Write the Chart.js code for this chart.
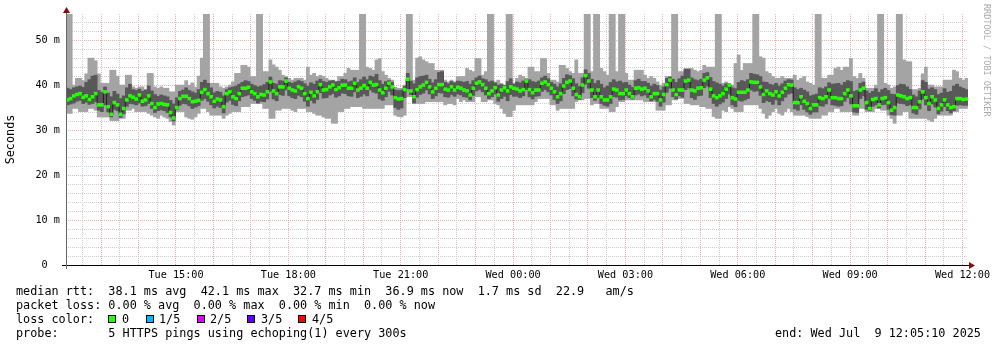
<!DOCTYPE html>
<html>
<head>
<meta charset="utf-8">
<title>smokeping rtt</title>
<script src="https://cdn.jsdelivr.net/npm/chart.js@4.4.1/dist/chart.umd.min.js"></script>
<style>
  html, body { margin: 0; padding: 0; background: #fff; }
  #wrap { position: relative; width: 997px; height: 347px; overflow: hidden; background: #fff; }
  #chart-canvas { position: absolute; left: 0; top: 0; }
  .row { position: absolute; font-family: "DejaVu Sans Mono", monospace; font-size: 11.8px; line-height: 14px; white-space: pre; color: #000; }
  .box { position: absolute; width: 6px; height: 6px; border: 1px solid #000; }
  #watermark { position: absolute; left: 981px; top: 4px; width: 12px; writing-mode: vertical-rl; font-family: "DejaVu Sans Mono", monospace; font-size: 8.5px; line-height: 12px; color: #aaaaaa; white-space: pre; }
</style>
</head>
<body>
<div id="wrap">
  <canvas id="chart-canvas" width="997" height="347"></canvas>
  <div id="watermark">RRDTOOL / TOBI OETIKER</div>
  <div class="row" style="left:16px; top:284px;">median rtt:  38.1 ms avg  42.1 ms max  32.7 ms min  36.9 ms now  1.7 ms sd  22.9   am/s</div>
  <div class="row" style="left:16px; top:298px;">packet loss: 0.00 % avg  0.00 % max  0.00 % min  0.00 % now</div>
  <div class="row" style="left:16px; top:312px;">loss color:</div>
  <div id="loss-legend"></div>
  <div class="row" style="left:16px; top:326px;">probe:       5 HTTPS pings using echoping(1) every 300s</div>
  <div class="row" style="left:775px; top:326px;">end: Wed Jul  9 12:05:10 2025</div>
</div>
<script>
// ### data (one value per 5 minute step, ms) ###
const medianRtt = [
  36.7, 37.0, 37.6, 37.9, 38.1, 37.3, 37.6, 36.8, 37.4, 38.1, 35.6, 35.6, 38.5, 35.2, 33.5, 36.1, 35.6, 33.5, 34.8, 36.7, 37.6, 37.3, 36.9, 37.8, 36.4, 36.7, 37.6, 35.9, 35.0, 35.8, 35.9, 35.7, 35.6, 33.9, 32.7, 35.0, 37.0, 37.5, 37.5, 37.0, 36.3, 36.4, 36.6, 38.4, 39.0, 38.1, 37.4,
  36.4, 36.9, 36.7, 35.2, 38.1, 38.5, 37.4, 37.0, 38.1, 39.3, 39.3, 39.5, 38.5, 38.1, 37.4, 37.9, 37.8, 38.5, 40.7, 38.7, 38.1, 39.6, 39.6, 40.9, 39.3, 38.9, 38.7, 39.6, 39.3, 38.1, 37.0, 38.4, 37.6, 38.5, 40.1, 38.9, 39.0, 39.6, 40.0, 39.0, 39.4, 40.0, 40.0, 39.3, 39.3, 40.4, 38.9, 39.3, 39.9,
  39.3, 40.6, 40.0, 40.1, 38.9, 38.3, 39.3, 40.4, 39.6, 37.2, 36.9, 37.0, 39.0, 41.3, 38.7, 37.4, 39.0, 39.6, 40.0, 40.6, 39.6, 38.5, 39.3, 40.1, 40.1, 39.1, 38.9, 39.6, 38.9, 39.5, 39.3, 38.9, 38.7, 37.8, 39.3, 40.4, 40.7, 40.1, 39.3, 38.1, 38.7, 39.4, 37.8, 38.9, 39.4, 38.7, 39.6, 39.3,
  39.1, 38.7, 39.0, 40.9, 39.0, 38.3, 38.9, 38.9, 40.4, 40.7, 40.1, 39.3, 38.5, 37.4, 38.1, 39.8, 40.6, 40.9, 39.3, 37.9, 37.4, 40.0, 42.1, 40.9, 38.9, 37.4, 38.9, 37.4, 36.7, 36.7, 37.4, 39.1, 38.9, 38.1, 38.1, 38.9, 38.1, 37.4, 39.3, 39.4, 39.1, 39.3, 38.7, 37.4, 38.1, 38.1, 36.7, 37.9,
  40.1, 41.1, 38.9, 37.9, 38.9, 38.9, 40.9, 41.1, 38.9, 38.7, 39.3, 39.4, 41.1, 41.6, 39.1, 37.6, 37.2, 37.6, 38.1, 39.1, 40.0, 37.2, 36.9, 38.4, 38.4, 38.4, 38.9, 40.7, 40.6, 40.6, 39.6, 37.9, 38.7, 38.1, 37.8, 38.5, 37.6, 38.4, 39.3, 40.1, 40.0, 36.1, 36.1, 37.4, 36.4, 35.9, 34.8, 35.6,
  35.6, 37.2, 37.0, 37.4, 38.9, 37.2, 37.2, 37.0, 37.0, 38.1, 38.9, 37.6, 35.4, 35.4, 38.9, 39.3, 36.1, 34.8, 36.8, 37.0, 35.6, 37.0, 37.2, 36.1, 34.4, 35.0, 37.8, 37.6, 37.4, 37.0, 37.2, 35.0, 35.0, 36.3, 38.5, 37.2, 35.9, 37.4, 36.7, 34.8, 35.6, 36.7, 35.6, 35.0, 35.2, 37.0, 37.0, 36.8, 36.9,
];

// slowest of the 5 pings (56 = off the top of the graph)
const maxRtt = [
  56, 56, 40.0, 41.5, 41.5, 41.0, 42.5, 46.0, 46.0, 45.4, 42.5, 40.4, 40.4, 40.4, 43.3, 43.3, 42.0, 40.0, 40.0, 42.2, 42.2, 39.6, 39.3, 39.6, 39.6, 39.0, 42.6, 42.6, 39.6, 39.3, 39.6, 39.3, 39.3, 38.5, 38.5, 40.0, 40.0, 40.0, 41.0, 40.0, 40.5, 39.5, 42.0, 46.0, 56, 56, 40.4,
  40.4, 40.4, 39.6, 39.3, 39.6, 40.0, 40.7, 42.6, 42.6, 44.4, 44.4, 44.0, 41.9, 41.9, 56, 56, 43.0, 43.0, 45.6, 44.5, 44.0, 43.3, 42.2, 41.9, 41.5, 41.1, 41.5, 41.5, 41.5, 41.1, 44.0, 42.2, 42.6, 41.9, 42.2, 41.9, 41.5, 41.1, 41.1, 40.9, 41.9, 41.9, 42.6, 43.7, 43.3, 43.3, 43.3, 56, 56,
  44.0, 43.7, 43.3, 45.6, 45.9, 43.0, 42.2, 41.5, 41.1, 39.5, 39.3, 39.3, 40.0, 56, 56, 41.1, 46.0, 46.3, 45.6, 45.2, 44.8, 44.8, 43.3, 43.3, 43.3, 41.1, 40.7, 41.1, 40.7, 41.9, 41.9, 41.9, 43.7, 43.3, 43.0, 45.9, 45.9, 42.2, 43.0, 56, 56, 40.7, 41.1, 40.4, 40.0, 56, 56, 40.4,
  41.5, 42.2, 41.9, 41.5, 44.0, 44.0, 43.0, 43.0, 45.9, 45.9, 42.6, 41.1, 41.1, 40.7, 44.4, 44.4, 43.7, 43.0, 42.6, 45.6, 42.6, 42.6, 56, 56, 43.0, 56, 56, 43.7, 43.0, 42.2, 56, 56, 43.0, 56, 56, 42.6, 41.1, 41.1, 43.3, 43.3, 43.3, 42.2, 41.5, 41.9, 41.5, 40.7, 40.0, 40.4,
  41.9, 41.9, 56, 56, 43.0, 43.0, 43.7, 43.7, 43.7, 43.3, 43.0, 43.3, 44.4, 44.0, 44.0, 44.0, 56, 56, 40.4, 40.7, 40.4, 40.0, 44.8, 46.7, 43.3, 44.8, 44.8, 44.8, 56, 56, 46.3, 46.0, 43.0, 42.6, 41.9, 41.5, 41.5, 41.9, 41.5, 41.5, 41.5, 42.2, 41.1, 41.5, 41.9, 40.7, 40.4, 40.0,
  56, 56, 41.5, 41.5, 42.2, 42.2, 43.7, 44.0, 43.3, 44.0, 44.0, 45.9, 41.9, 41.5, 42.6, 41.5, 39.3, 39.3, 39.3, 40.0, 56, 56, 40.4, 40.0, 39.3, 39.6, 56, 56, 45.6, 45.2, 45.2, 39.0, 39.0, 39.3, 42.5, 44.0, 40.0, 40.0, 39.6, 39.6, 39.6, 41.1, 41.1, 41.1, 43.3, 43.0, 41.5, 41.1, 41.5,
];

// fourth of the 5 pings
const highRtt = [
  39.3, 39.0, 39.4, 39.6, 39.8, 39.5, 40.6, 41.2, 42.0, 42.2, 38.8, 38.4, 39.6, 38.2, 37.4, 38.6, 38.0, 37.0, 37.6, 39.4, 40.2, 39.0, 38.8, 39.1, 38.6, 38.9, 39.8, 38.7, 37.9, 37.5, 37.8, 37.6, 37.4, 36.6, 35.8, 37.2, 38.6, 38.9, 39.4, 38.8, 38.5, 38.2, 39.0, 40.6, 41.1, 40.4, 39.4,
  38.3, 38.6, 38.4, 37.6, 39.0, 39.4, 39.6, 39.8, 40.2, 40.6, 41.0, 40.8, 40.2, 39.9, 39.6, 39.8, 40.1, 40.6, 41.8, 40.4, 40.2, 41.0, 40.9, 41.6, 40.6, 40.4, 40.7, 41.0, 40.8, 40.3, 39.8, 40.5, 40.2, 40.9, 41.3, 40.8, 40.6, 40.9, 41.0, 40.7, 40.8, 41.3, 41.2, 40.7, 40.9, 41.6, 40.6, 41.2, 41.8,
  41.2, 42.0, 41.8, 42.4, 41.0, 40.2, 40.8, 41.0, 40.6, 38.9, 38.8, 38.9, 39.7, 42.6, 40.9, 40.3, 41.6, 41.9, 42.0, 42.2, 41.3, 40.5, 41.2, 42.8, 43.0, 40.6, 40.3, 40.8, 40.5, 40.9, 40.8, 40.6, 40.8, 40.2, 41.0, 41.6, 42.0, 41.4, 41.2, 40.7, 40.9, 40.5, 40.0, 40.1, 39.9, 40.8, 41.4, 40.2,
  40.7, 40.5, 40.9, 41.3, 41.2, 40.8, 40.6, 40.9, 41.6, 42.0, 41.4, 40.6, 40.2, 39.6, 40.3, 41.5, 42.3, 42.1, 41.4, 40.3, 39.7, 41.6, 43.4, 42.6, 41.3, 40.4, 41.0, 40.2, 39.4, 39.8, 40.6, 41.2, 40.7, 40.9, 40.5, 40.6, 40.0, 39.5, 41.0, 41.3, 40.8, 40.8, 40.4, 39.8, 40.2, 39.9, 38.9, 39.6,
  41.5, 41.8, 41.3, 40.6, 41.4, 42.0, 43.5, 43.5, 41.6, 41.2, 41.0, 41.3, 42.6, 42.8, 41.7, 40.8, 40.5, 40.2, 39.8, 40.3, 40.3, 39.4, 39.2, 40.6, 41.0, 40.8, 41.2, 42.6, 42.4, 42.3, 41.9, 40.7, 40.6, 40.2, 40.0, 40.4, 39.8, 40.3, 40.9, 41.2, 41.1, 39.4, 39.0, 39.3, 38.9, 38.5, 37.6, 37.8,
  38.0, 39.4, 39.2, 39.6, 40.5, 40.2, 40.3, 40.4, 40.0, 40.6, 41.0, 40.8, 38.6, 38.8, 40.4, 40.7, 38.7, 38.2, 38.6, 39.2, 38.4, 39.0, 39.3, 38.8, 38.0, 37.9, 39.9, 40.2, 40.1, 39.6, 39.0, 37.8, 37.4, 38.7, 41.0, 40.6, 39.1, 39.4, 39.0, 37.9, 38.2, 39.2, 38.4, 38.6, 39.8, 40.2, 39.6, 39.3, 39.0,
];

// second of the 5 pings
const lowRtt = [
  35.6, 35.8, 36.0, 36.4, 36.6, 35.9, 36.2, 35.7, 35.9, 36.3, 34.4, 34.1, 35.6, 34.0, 32.9, 34.6, 34.3, 32.8, 33.6, 35.3, 35.9, 35.8, 35.6, 36.0, 35.3, 35.4, 35.9, 34.8, 33.9, 34.3, 34.5, 34.3, 33.9, 32.9, 32.0, 34.6, 35.5, 35.9, 35.8, 35.4, 34.8, 35.1, 35.4, 36.6, 37.0, 36.4, 35.6,
  34.9, 35.3, 35.0, 33.8, 36.2, 36.6, 35.7, 35.4, 36.5, 37.4, 37.6, 37.8, 37.0, 36.6, 36.0, 36.4, 36.3, 36.9, 38.6, 36.9, 36.5, 37.9, 37.7, 38.9, 37.6, 37.2, 37.0, 37.7, 37.4, 36.4, 35.3, 36.6, 36.0, 36.8, 38.3, 37.1, 37.2, 37.8, 38.1, 37.3, 37.6, 38.2, 38.1, 37.6, 37.5, 38.5, 37.2, 37.5, 38.0,
  37.6, 38.9, 38.4, 38.2, 36.9, 36.6, 37.4, 38.6, 37.8, 35.0, 34.6, 34.9, 37.2, 39.2, 37.9, 36.0, 37.3, 37.9, 38.2, 38.9, 38.0, 37.0, 37.6, 38.3, 38.2, 37.4, 37.3, 37.9, 37.5, 38.0, 37.8, 37.4, 37.3, 36.7, 37.7, 38.7, 39.0, 38.5, 37.8, 37.0, 37.4, 38.0, 36.4, 37.0, 37.5, 36.5, 37.9, 37.5,
  37.5, 37.2, 37.6, 39.0, 37.4, 36.9, 37.5, 37.6, 38.6, 39.0, 38.5, 37.8, 36.8, 35.9, 36.5, 38.1, 39.0, 39.2, 37.6, 36.9, 36.8, 38.3, 40.2, 39.3, 37.2, 36.6, 37.2, 35.9, 35.5, 35.3, 35.9, 37.4, 37.3, 36.7, 36.8, 37.6, 37.2, 36.9, 37.8, 38.0, 37.6, 37.8, 37.2, 36.5, 36.8, 36.4, 35.3, 36.2,
  38.4, 39.3, 37.4, 36.9, 37.6, 37.3, 39.0, 39.4, 37.2, 36.8, 37.6, 37.7, 39.4, 39.8, 37.2, 35.9, 35.3, 35.8, 36.2, 37.0, 38.0, 35.6, 35.2, 36.6, 36.4, 36.7, 37.0, 38.9, 38.6, 38.7, 37.7, 36.1, 36.5, 36.3, 35.7, 36.7, 35.6, 36.5, 37.3, 38.0, 38.2, 34.7, 34.4, 35.6, 34.6, 34.0, 33.5, 34.0,
  34.0, 35.4, 35.3, 35.8, 37.0, 35.6, 35.5, 35.3, 35.4, 36.4, 37.2, 35.8, 34.0, 33.9, 37.0, 37.6, 34.6, 34.3, 35.3, 35.6, 34.9, 35.6, 35.7, 34.6, 33.4, 33.3, 36.0, 35.9, 35.8, 35.4, 35.6, 33.8, 33.5, 34.7, 36.9, 35.6, 34.3, 35.8, 35.1, 33.6, 34.2, 35.2, 34.3, 33.8, 34.3, 35.5, 35.6, 35.5, 35.5,
];

// fastest of the 5 pings
const minRtt = [
  33.7, 33.7, 34.8, 34.8, 34.1, 34.1, 34.1, 34.8, 34.8, 34.4, 32.9, 32.9, 32.9, 32.9, 32.1, 32.1, 32.1, 32.6, 32.6, 34.4, 34.4, 34.8, 34.1, 34.1, 34.1, 34.1, 33.7, 33.3, 32.9, 32.6, 33.3, 32.9, 32.6, 31.9, 31.1, 34.1, 34.1, 34.1, 32.9, 32.6, 32.4, 32.9, 33.7, 34.8, 34.8, 34.1, 33.3,
  33.3, 33.3, 33.3, 32.6, 33.3, 33.7, 34.1, 34.1, 34.1, 35.2, 35.2, 35.2, 35.9, 35.9, 35.9, 35.9, 34.8, 34.8, 32.6, 32.6, 34.4, 34.4, 34.8, 34.8, 34.8, 34.4, 34.1, 34.8, 34.8, 34.8, 34.1, 34.1, 33.7, 33.3, 33.3, 32.9, 32.6, 32.6, 31.5, 31.5, 34.1, 34.1, 34.8, 34.8, 35.2, 35.2, 35.2, 35.2, 34.8,
  34.8, 34.8, 34.8, 34.8, 34.8, 34.8, 35.6, 35.6, 35.6, 33.3, 33.0, 32.9, 33.3, 37.4, 37.4, 35.9, 35.9, 35.9, 35.9, 36.3, 36.3, 36.3, 36.3, 36.3, 36.3, 35.6, 35.9, 35.9, 35.6, 37.0, 36.3, 36.7, 36.3, 36.3, 36.3, 37.4, 37.4, 36.3, 36.3, 36.7, 36.7, 35.9, 35.6, 34.8, 33.7, 33.0, 33.0, 34.4,
  35.6, 35.6, 35.6, 35.6, 35.6, 35.6, 36.3, 37.0, 37.0, 37.0, 37.0, 35.6, 35.6, 34.4, 34.8, 34.8, 34.8, 34.8, 34.8, 36.3, 36.7, 36.7, 37.0, 37.0, 35.6, 35.9, 35.9, 34.8, 34.8, 34.8, 34.1, 34.1, 35.2, 36.3, 36.3, 36.7, 36.7, 36.7, 36.7, 36.7, 36.7, 36.3, 36.3, 36.3, 36.3, 34.4, 34.4, 34.4,
  35.6, 35.6, 36.7, 36.7, 37.0, 37.0, 35.9, 35.9, 35.6, 35.6, 35.6, 35.2, 35.2, 34.8, 34.8, 33.0, 32.6, 32.6, 34.4, 34.1, 35.2, 34.8, 34.1, 34.1, 34.1, 35.6, 35.6, 35.6, 35.6, 35.6, 34.8, 33.7, 32.6, 33.3, 34.1, 34.8, 33.7, 33.3, 34.1, 34.8, 34.1, 33.3, 33.3, 33.3, 33.3, 33.0, 32.6, 32.6,
  32.6, 32.6, 33.3, 33.3, 34.1, 34.1, 34.8, 34.8, 34.1, 34.1, 34.1, 34.1, 33.3, 33.3, 34.8, 34.8, 34.1, 34.1, 34.1, 34.8, 34.8, 34.4, 34.4, 33.3, 32.6, 31.5, 33.3, 33.3, 34.1, 34.1, 32.6, 32.6, 32.6, 32.6, 32.6, 32.6, 32.2, 31.9, 32.6, 33.3, 33.3, 33.3, 33.3, 33.3, 34.1, 34.1, 34.8, 34.8, 34.8,
];

// ### axis labels ###
// minutes counted from Tue 12:00
const timeTickMinutes = [180, 360, 540, 720, 900, 1080, 1260, 1440];
const timeTickLabels = ["Tue 15:00", "Tue 18:00", "Tue 21:00", "Wed 00:00", "Wed 03:00", "Wed 06:00", "Wed 09:00", "Wed 12:00"];
const yTickValues = [0, 10, 20, 30, 40, 50];
const yTickLabels = ["0  ", "10 m", "20 m", "30 m", "40 m", "50 m"];

// ### loss legend ###
const lossLabels = ["0", "1/5", "2/5", "3/5", "4/5"];
const lossColors = ["#26ff00", "#00b8ff", "#dd00ff", "#5e00ff", "#ff0000"];

// ### colors ###
const SMOKE_LIGHT = "#a4a4a4";
const SMOKE_DARK = "#585858";
const MEDIAN_LINE = "#202020";
const MINOR_GRID = "#cfcfcf";
const MAJOR_GRID = "#eab4b4";
const ARROW_RED = "#7f0f0f";
const FONT = "'DejaVu Sans Mono', monospace";

// ### layout of the time axis ###
const STEP_MINUTES = 5;
const FIRST_MINUTE = 3.8;
const LAST_MINUTE = FIRST_MINUTE + STEP_MINUTES * medianRtt.length;
const Y_MAX = 55.8;
const STICK_HALF = 0.32;

function stepCenter(i) {
  return FIRST_MINUTE + STEP_MINUTES * (i + 0.5);
}

function buildBand(lowSeries, highSeries) {
  return lowSeries.map((value, i) => ({ x: stepCenter(i), y: [value, highSeries[i]] }));
}

function buildMedianSticks() {
  return medianRtt.map((value, i) => ({ x: stepCenter(i), y: [value - STICK_HALF, value + STICK_HALF] }));
}

function buildMedianLine() {
  return medianRtt.map((value, i) => ({ x: stepCenter(i), y: value }));
}

// ### legend rendering ###
function renderLossLegend() {
  const holder = document.getElementById("loss-legend");
  const boxLefts = [108, 146, 197, 247, 298];
  const textLefts = [122, 159, 210, 261, 312];
  lossLabels.forEach((label, i) => {
    const box = document.createElement("div");
    box.className = "box";
    box.style.left = boxLefts[i] + "px";
    box.style.top = "315px";
    box.style.background = lossColors[i];
    holder.appendChild(box);

    const text = document.createElement("div");
    text.className = "row";
    text.style.left = textLefts[i] + "px";
    text.style.top = "312px";
    text.textContent = label;
    holder.appendChild(text);
  });
}

// arrows at the end of both axes, like rrdtool draws them
const axisArrows = {
  id: "axisArrows",
  afterDraw(chart) {
    const { ctx, chartArea } = chart;
    const { left, right, top, bottom } = chartArea;
    ctx.save();
    ctx.lineWidth = 1;
    ctx.strokeStyle = "#000";
    ctx.beginPath();
    ctx.moveTo(left - 4, bottom + 0.5);
    ctx.lineTo(right + 2, bottom + 0.5);
    ctx.stroke();
    ctx.strokeStyle = "#666";
    ctx.beginPath();
    ctx.moveTo(left + 0.5, bottom + 4);
    ctx.lineTo(left + 0.5, top - 2);
    ctx.stroke();

    ctx.fillStyle = ARROW_RED;
    ctx.beginPath();
    ctx.moveTo(left - 3, top - 1);
    ctx.lineTo(left + 4, top - 1);
    ctx.lineTo(left + 0.5, top - 7);
    ctx.closePath();
    ctx.fill();
    ctx.beginPath();
    ctx.moveTo(right + 1, bottom - 3);
    ctx.lineTo(right + 1, bottom + 4);
    ctx.lineTo(right + 7, bottom + 0.5);
    ctx.closePath();
    ctx.fill();
    ctx.restore();
  },
};

// ### chart ###
function renderRttChart() {
  const chartCanvas = document.getElementById("chart-canvas");
  Chart.defaults.font.family = FONT;
  Chart.defaults.color = "#000";

  new Chart(chartCanvas, {
    type: "bar",
    data: {
      datasets: [
        {
          label: "median",
          type: "bar",
          data: buildMedianSticks(),
          backgroundColor: lossColors[0],
          grouped: false,
          barPercentage: 1,
          categoryPercentage: 1,
          clip: 0,
          order: 1,
        },
        {
          label: "median line",
          type: "line",
          data: buildMedianLine(),
          borderColor: MEDIAN_LINE,
          borderWidth: 1,
          pointRadius: 0,
          stepped: "middle",
          fill: false,
          clip: 0,
          order: 2,
        },
        {
          label: "ping 2-4",
          type: "bar",
          data: buildBand(lowRtt, highRtt),
          backgroundColor: SMOKE_DARK,
          grouped: false,
          barPercentage: 1,
          categoryPercentage: 1,
          clip: 0,
          order: 3,
        },
        {
          label: "ping 1-5",
          type: "bar",
          data: buildBand(minRtt, maxRtt),
          backgroundColor: SMOKE_LIGHT,
          grouped: false,
          barPercentage: 1,
          categoryPercentage: 1,
          clip: 0,
          order: 4,
        },
      ],
    },
    options: {
      responsive: false,
      animation: false,
      events: [],
      layout: {
        padding: { left: 0, right: 29, top: 14, bottom: 0 },
      },
      plugins: {
        legend: { display: false },
        tooltip: { enabled: false },
      },
      scales: {
        x: {
          type: "linear",
          min: FIRST_MINUTE,
          max: LAST_MINUTE,
          offset: false,
          afterBuildTicks: (scale) => {
            const ticks = [];
            for (let m = 30; m <= 1440; m += 30) ticks.push({ value: m });
            scale.ticks = ticks;
          },
          afterFit: (scale) => {
            scale.height = 82;
          },
          grid: {
            offset: false,
            drawTicks: false,
            color: (ctx) => (ctx.tick && ctx.tick.value % 60 === 0 ? MAJOR_GRID : MINOR_GRID),
          },
          border: { display: false, dash: [1, 1] },
          ticks: {
            autoSkip: false,
            maxRotation: 0,
            padding: 4,
            font: { size: 10.2 },
            callback: (value) => {
              const idx = timeTickMinutes.indexOf(value);
              return idx === -1 ? "" : timeTickLabels[idx];
            },
          },
        },
        y: {
          type: "linear",
          min: 0,
          max: Y_MAX,
          afterBuildTicks: (scale) => {
            const ticks = [];
            for (let v = 0; v <= 54; v += 2) ticks.push({ value: v });
            scale.ticks = ticks;
          },
          afterFit: (scale) => {
            scale.width = 66;
          },
          grid: {
            drawTicks: false,
            color: (ctx) => {
              if (!ctx.tick || ctx.tick.value === 0) return "rgba(0,0,0,0)";
              return ctx.tick.value % 10 === 0 ? MAJOR_GRID : MINOR_GRID;
            },
          },
          border: { display: false, dash: [1, 1] },
          title: {
            display: true,
            text: "Seconds",
            font: { size: 11.8 },
            padding: { top: 4, bottom: 0 },
          },
          ticks: {
            autoSkip: false,
            padding: 6,
            font: { size: 10.2 },
            callback: (value) => {
              const idx = yTickValues.indexOf(value);
              return idx === -1 ? "" : yTickLabels[idx];
            },
          },
        },
      },
    },
    plugins: [axisArrows],
  });
}

// ### application start ###
function main() {
  renderLossLegend();
  renderRttChart();
}

main();
</script>
</body>
</html>
